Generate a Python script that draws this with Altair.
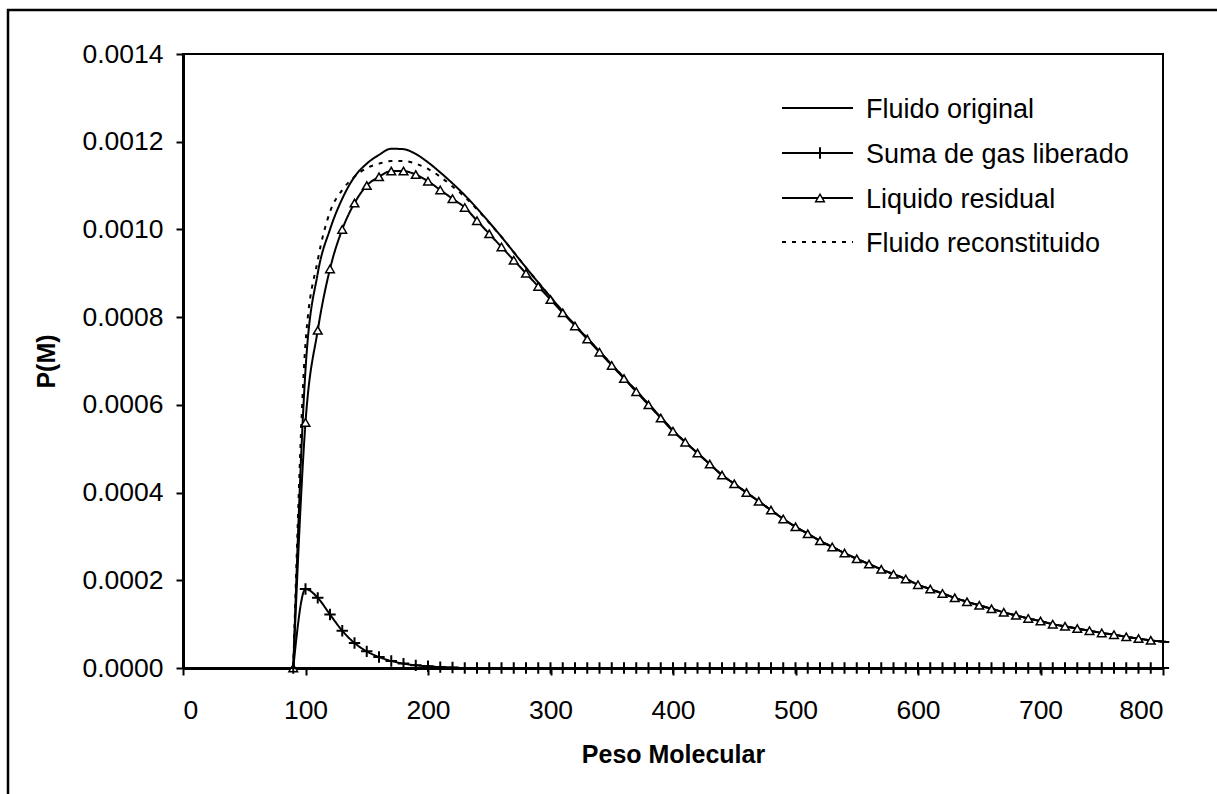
import altair as alt
import pandas as pd

FONT = "Liberation Sans"

mw = [90, 100, 110, 120, 130, 140, 150, 160, 170, 180, 190, 200, 210, 220, 230, 240,
      250, 260, 270, 280, 290, 300, 310, 320, 330, 340, 350, 360, 370, 380, 390, 400,
      410, 420, 430, 440, 450, 460, 470, 480, 490, 500, 510, 520, 530, 540, 550, 560,
      570, 580, 590, 600, 610, 620, 630, 640, 650, 660, 670, 680, 690, 700, 710, 720,
      730, 740, 750, 760, 770, 780, 790, 805]

liquido = [0, 0.00056, 0.00077, 0.00091, 0.00100, 0.00106, 0.00110, 0.00112, 0.001133, 0.001133,
           0.001125, 0.00111, 0.00109, 0.00107, 0.00105, 0.00102, 0.00099, 0.00096, 0.00093, 0.00090,
           0.00087, 0.00084, 0.00081, 0.00078, 0.00075, 0.00072, 0.00069, 0.00066, 0.00063, 0.00060,
           0.00057, 0.00054, 0.000515, 0.00049, 0.000465, 0.00044, 0.00042, 0.0004, 0.00038, 0.00036,
           0.00034, 0.000322, 0.000306, 0.00029, 0.000276, 0.000262, 0.000249, 0.000237, 0.000225, 0.000214,
           0.000203, 0.00019, 0.00018, 0.00017, 0.00016, 0.000151, 0.000143, 0.000135, 0.000127, 0.00012,
           0.000113, 0.000107, 0.0001, 0.000095, 0.00009, 0.000085, 0.00008, 0.000076, 0.000071, 0.000067,
           0.000063, 0.000059]

original = [0, 0.00068, 0.00090, 0.00100, 0.00107, 0.00112, 0.00115, 0.00117, 0.001184, 0.001183,
            0.001172, 0.001153, 0.00113, 0.001105, 0.001078, 0.001048, 0.001016, 0.000983, 0.000948, 0.000913,
            0.000879, 0.000846, 0.000813, 0.000782, 0.000752, 0.000722, 0.000692, 0.000662, 0.000632, 0.000602,
            0.000572, 0.000542, 0.000515, 0.00049, 0.000465, 0.00044, 0.00042, 0.0004, 0.00038, 0.00036,
            0.00034, 0.000322, 0.000306, 0.00029, 0.000276, 0.000262, 0.000249, 0.000237, 0.000225, 0.000214,
            0.000203, 0.00019, 0.00018, 0.00017, 0.00016, 0.000151, 0.000143, 0.000135, 0.000127, 0.00012,
            0.000113, 0.000107, 0.0001, 0.000095, 0.00009, 0.000085, 0.00008, 0.000076, 0.000071, 0.000067,
            0.000063, 0.000059]

reconstituido = [0, 0.00074, 0.00093, 0.00104, 0.00109, 0.00112, 0.00114, 0.00115, 0.001156, 0.001156,
                 0.00115, 0.001138, 0.00112, 0.001098, 0.001074, 0.001046, 0.001015, 0.000983, 0.000948, 0.000913,
                 0.000879, 0.000846, 0.000813, 0.000782, 0.000752, 0.000722, 0.000692, 0.000662, 0.000632, 0.000602,
                 0.000572, 0.000542, 0.000515, 0.00049, 0.000465, 0.00044, 0.00042, 0.0004, 0.00038, 0.00036,
                 0.00034, 0.000322, 0.000306, 0.00029, 0.000276, 0.000262, 0.000249, 0.000237, 0.000225, 0.000214,
                 0.000203, 0.00019, 0.00018, 0.00017, 0.00016, 0.000151, 0.000143, 0.000135, 0.000127, 0.00012,
                 0.000113, 0.000107, 0.0001, 0.000095, 0.00009, 0.000085, 0.00008, 0.000076, 0.000071, 0.000067,
                 0.000063, 0.000059]

gas = [0, 0.00018, 0.00016, 0.000122, 0.000085, 0.000057, 0.000038, 0.000025, 0.000016, 0.00001,
       0.000006, 0.000004, 0.000002, 0.000001, 0, 0, 0, 0, 0, 0,
       0, 0, 0, 0, 0, 0, 0, 0, 0, 0,
       0, 0, 0, 0, 0, 0, 0, 0, 0, 0,
       0, 0, 0, 0, 0, 0, 0, 0, 0, 0,
       0, 0, 0, 0, 0, 0, 0, 0, 0, 0,
       0, 0, 0, 0, 0, 0, 0, 0, 0, 0,
       0, 0]

series_names = ["Fluido original", "Suma de gas liberado", "Liquido residual", "Fluido reconstituido"]
x_ticks = [0, 100, 200, 300, 400, 500, 600, 700, 800]
y_ticks = [0, 0.0002, 0.0004, 0.0006, 0.0008, 0.0010, 0.0012, 0.0014]

rows = []
for name, vals in zip(series_names, [original, gas, liquido, reconstituido]):
    for xv, yv in zip(mw, vals):
        rows.append({"mw": xv, "pm": yv, "series": name})
df = pd.DataFrame(rows)

xscale = alt.Scale(domain=[0, 800], nice=False, zero=False)
yscale = alt.Scale(domain=[0, 0.0014], nice=False)

x_axis = alt.Axis(title="Peso Molecular", values=x_ticks, format="d", grid=False,
                  labelFontSize=26.5, labelFont=FONT, labelColor="black", labelPadding=22,
                  tickSize=7, tickWidth=2, tickColor="black",
                  domainWidth=3, domainColor="black",
                  titleFontSize=25, titleFont=FONT, titleFontWeight="bold", titleColor="black",
                  titlePadding=19)
y_axis = alt.Axis(title="P(M)", values=y_ticks, format=".4f", grid=False,
                  labelFontSize=26.5, labelFont=FONT, labelColor="black", labelPadding=13,
                  tickSize=7, tickWidth=2, tickColor="black",
                  domainWidth=3, domainColor="black",
                  titleFontSize=25, titleFont=FONT, titleFontWeight="bold", titleColor="black",
                  titlePadding=22)

base = alt.Chart(df)

lines = base.mark_line(interpolate="monotone", strokeWidth=2, color="black").encode(
    x=alt.X("mw:Q", scale=xscale, axis=x_axis),
    y=alt.Y("pm:Q", scale=yscale, axis=y_axis),
    strokeDash=alt.StrokeDash("series:N",
                              scale=alt.Scale(domain=series_names,
                                              range=[[1, 0], [1, 0], [1, 0], [4, 6]]),
                              legend=None),
    detail="series:N",
)

tri = base.transform_filter(
    (alt.datum.series == "Liquido residual") & (alt.datum.mw < 800)
).mark_point(shape="triangle-up", size=75, filled=True, fill="white", stroke="black",
             strokeWidth=1.5, opacity=1).encode(
    x=alt.X("mw:Q", scale=xscale), y=alt.Y("pm:Q", scale=yscale))

PLUS = "M-1,0L1,0M0,-1L0,1"
plus = base.transform_filter(
    (alt.datum.series == "Suma de gas liberado") & (alt.datum.mw < 800)
).mark_point(shape=PLUS, size=130, filled=False, stroke="black",
             strokeWidth=2, opacity=1).encode(
    x=alt.X("mw:Q", scale=xscale), y=alt.Y("pm:Q", scale=yscale))

# manual legend
one = pd.DataFrame({"k": [0]})
leg_line_y = [54, 99, 144, 188]
leg_text_y = [56, 101, 146, 190]
legend_layers = []
for i, name in enumerate(series_names):
    dash = [4, 6] if name == "Fluido reconstituido" else [1, 0]
    legend_layers.append(
        alt.Chart(one).mark_rule(color="black", strokeWidth=2, strokeDash=dash).encode(
            x=alt.value(599), x2=alt.value(670), y=alt.value(leg_line_y[i])))
    legend_layers.append(
        alt.Chart(one).mark_text(align="left", baseline="middle", fontSize=27, font=FONT,
                                 color="black").encode(
            x=alt.value(683), y=alt.value(leg_text_y[i]), text=alt.value(name)))
    if name == "Liquido residual":
        legend_layers.append(
            alt.Chart(one).mark_point(shape="triangle-up", size=75, filled=True, fill="white",
                                      stroke="black", strokeWidth=1.5, opacity=1).encode(
                x=alt.value(637), y=alt.value(leg_line_y[i])))
    if name == "Suma de gas liberado":
        legend_layers.append(
            alt.Chart(one).mark_point(shape=PLUS, size=130, filled=False, stroke="black",
                                      strokeWidth=2, opacity=1).encode(
                x=alt.value(637), y=alt.value(leg_line_y[i])))

frame = alt.Chart(one).mark_rect(fillOpacity=0, stroke="black", strokeWidth=2.5).encode(
    x=alt.value(-175), x2=alt.value(1080), y=alt.value(-44), y2=alt.value(780))

chart = alt.layer(frame, lines, tri, plus, *legend_layers).properties(
    width=980, height=614,
    autosize=alt.AutoSizeParams(type="none"),
    padding={"left": 183, "top": 54, "right": 54, "bottom": 126},
    background="white",
).configure_view(stroke="black", strokeWidth=2)

chart.save("out.html", embed_options={"renderer": "svg", "actions": False})
